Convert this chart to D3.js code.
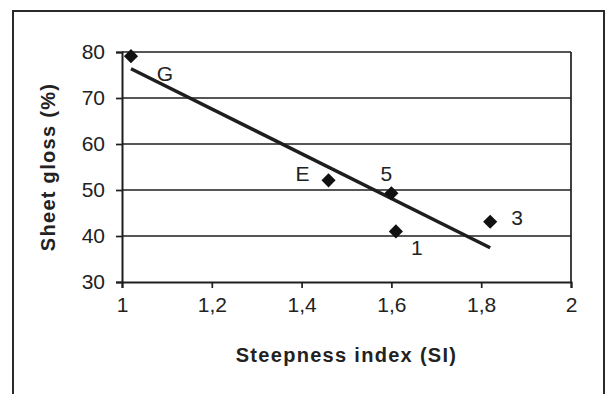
<!DOCTYPE html>
<html>
<head>
<meta charset="utf-8">
<script src="https://cdn.jsdelivr.net/npm/d3@7"></script>
<style>
  html, body { margin: 0; padding: 0; background: #fff; }
  svg { display: block; }
  text { font-family: "Liberation Sans", Arial, sans-serif; fill: #222; }
</style>
</head>
<body>
<svg id="chart" width="606" height="394"></svg>
<script>
// Samples: steepness index vs. sheet gloss
const sampleNames = ["G", "E", "5", "1", "3"];
const steepness   = [1.02, 1.46, 1.60, 1.61, 1.82];
const sheetGloss  = [79.1, 52.1, 49.3, 41.0, 43.1];

const xTicks = [1, 1.2, 1.4, 1.6, 1.8, 2];
const yTicks = [30, 40, 50, 60, 70, 80];

const xTitle = "Steepness index (SI)";
const yTitle = "Sheet gloss (%)";

const plot = { left: 122, right: 571, top: 52, bottom: 282 };
const ink = "#1e1e1e";

const svg = d3.select("#chart");

// outer chart border
svg.append("rect")
  .attr("x", 13).attr("y", 11)
  .attr("width", 591).attr("height", 400)
  .attr("fill", "#fff").attr("stroke", "#2a2a2a").attr("stroke-width", 2);

const x = d3.scaleLinear().domain([1, 2]).range([plot.left, plot.right]);
const y = d3.scaleLinear().domain([30, 80]).range([plot.bottom, plot.top]);

const fmt = v => String(v).replace(".", ",");

// horizontal gridlines
svg.append("g")
  .selectAll("line")
  .data(yTicks.filter(v => v > 30))
  .join("line")
  .attr("x1", plot.left).attr("x2", plot.right)
  .attr("y1", d => y(d)).attr("y2", d => y(d))
  .attr("stroke", ink).attr("stroke-width", 1.7);

// right border of the plot area
svg.append("line")
  .attr("x1", plot.right).attr("x2", plot.right)
  .attr("y1", plot.top).attr("y2", plot.bottom)
  .attr("stroke", ink).attr("stroke-width", 1.7);

// y axis
const yAxis = svg.append("g")
  .attr("transform", `translate(${plot.left},0)`)
  .call(d3.axisLeft(y).tickValues(yTicks).tickSize(6).tickPadding(11).tickFormat(d => d));
yAxis.select(".domain").attr("stroke", ink).attr("stroke-width", 2);
yAxis.selectAll(".tick line").attr("stroke", ink).attr("stroke-width", 1.7);
yAxis.selectAll(".tick text")
  .style("font-size", "21px").style("font-family", "Liberation Sans, Arial, sans-serif")
  .attr("fill", "#222");

// x axis
const xAxis = svg.append("g")
  .attr("transform", `translate(0,${plot.bottom})`)
  .call(d3.axisBottom(x).tickValues(xTicks).tickSize(6).tickPadding(9).tickFormat(fmt));
xAxis.select(".domain").attr("stroke", ink).attr("stroke-width", 2);
xAxis.selectAll(".tick line").attr("stroke", ink).attr("stroke-width", 1.7);
xAxis.selectAll(".tick text")
  .style("font-size", "21px").style("font-family", "Liberation Sans, Arial, sans-serif")
  .attr("fill", "#222");

// least-squares linear trend over the samples
const n = steepness.length;
const mx = d3.mean(steepness), my = d3.mean(sheetGloss);
let sxy = 0, sxx = 0;
for (let i = 0; i < n; i++) {
  sxy += (steepness[i] - mx) * (sheetGloss[i] - my);
  sxx += (steepness[i] - mx) ** 2;
}
const slope = sxy / sxx, intercept = my - slope * mx;
const [x0, x1] = d3.extent(steepness);
svg.append("line")
  .attr("x1", x(x0)).attr("y1", y(intercept + slope * x0))
  .attr("x2", x(x1)).attr("y2", y(intercept + slope * x1))
  .attr("stroke", ink).attr("stroke-width", 3.4);

// diamond markers
const points = sampleNames.map((name, i) => ({ name, sx: steepness[i], gloss: sheetGloss[i] }));
svg.append("g")
  .selectAll("path")
  .data(points)
  .join("path")
  .attr("d", d3.symbol(d3.symbolSquare, 100))
  .attr("transform", d => `translate(${x(d.sx)},${y(d.gloss)}) rotate(45)`)
  .attr("fill", "#111");

// point labels, placed beside each marker
const labelPlacement = {
  G: { dx: 34, dy: 25, anchor: "middle" },
  E: { dx: -19, dy: 1, anchor: "end" },
  "5": { dx: -5, dy: -12, anchor: "middle" },
  "1": { dx: 21, dy: 23.5, anchor: "middle" },
  "3": { dx: 27, dy: 3.5, anchor: "middle" }
};
svg.append("g")
  .selectAll("text")
  .data(points)
  .join("text")
  .attr("x", d => x(d.sx) + labelPlacement[d.name].dx)
  .attr("y", d => y(d.gloss) + labelPlacement[d.name].dy)
  .attr("text-anchor", d => labelPlacement[d.name].anchor)
  .style("font-size", "21px")
  .text(d => d.name);

// axis titles
svg.append("text")
  .attr("x", (plot.left + plot.right) / 2).attr("y", 362)
  .attr("text-anchor", "middle")
  .style("font-size", "20px").style("font-weight", "bold").style("letter-spacing", "1.3px")
  .text(xTitle);

svg.append("text")
  .attr("transform", `translate(55,${(plot.top + plot.bottom) / 2}) rotate(-90)`)
  .attr("text-anchor", "middle")
  .style("font-size", "20px").style("font-weight", "bold").style("letter-spacing", "1.3px")
  .text(yTitle);
</script>
</body>
</html>
